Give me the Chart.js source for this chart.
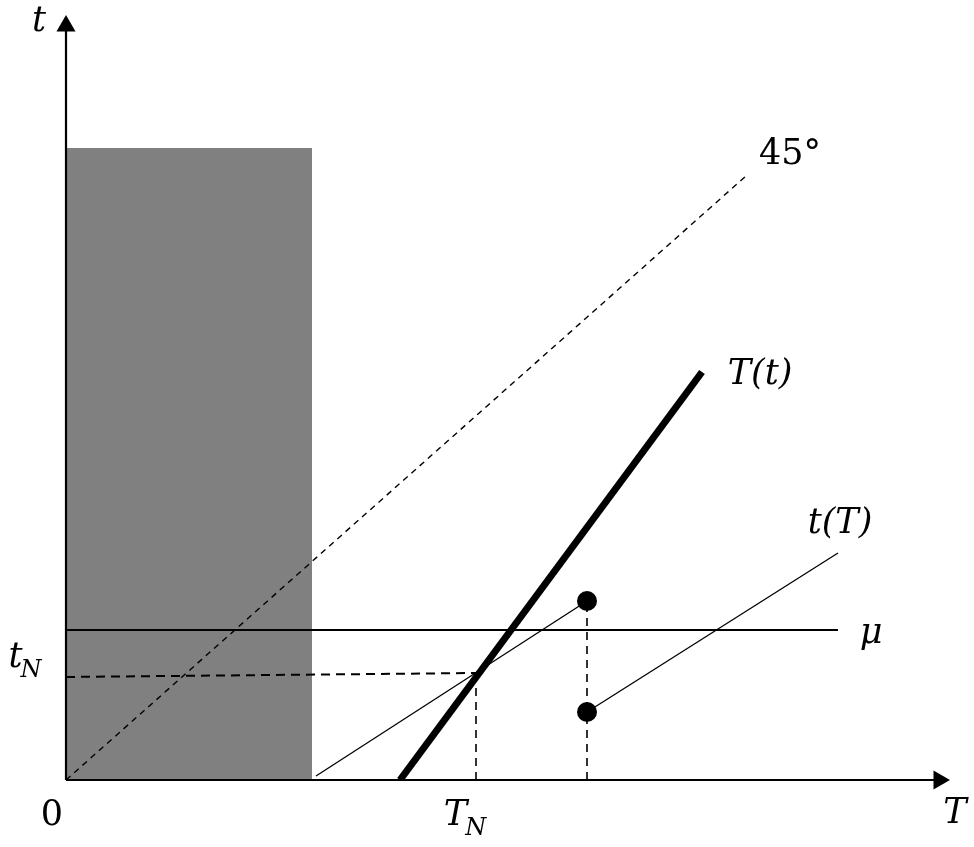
<!DOCTYPE html>
<html>
<head>
<meta charset="utf-8">
<script src="https://cdn.jsdelivr.net/npm/chart.js@4/dist/chart.umd.min.js"></script>
<style>
  html, body { margin: 0; background: #fff; }
</style>
</head>
<body>
<canvas id="chart" width="974" height="847"></canvas>
<script>
// data units are picked so the drawing reads like the original sketch
const xRange = [0, 908];
const yRange = [0, 780];

const shadeTop = [{x: 0, y: 632}, {x: 246, y: 632}];
const line45 = [{x: 0, y: 0}, {x: 680, y: 604}];
const curveTt = [{x: 334, y: 0}, {x: 636, y: 408}];
const curvetT_low = [{x: 250, y: 4}, {x: 521, y: 179}];
const curvetT_high = [{x: 521, y: 68}, {x: 772, y: 227}];
const muLevel = [{x: 0, y: 150}, {x: 772, y: 150}];
const tNGuide = [{x: 0, y: 103}, {x: 410, y: 107}];
const TNGuide = [{x: 410, y: 0}, {x: 410, y: 107}];
const jumpGuide = [{x: 521, y: 0}, {x: 521, y: 179}];
const jumpPoints = [{x: 521, y: 179}, {x: 521, y: 68}];
const xAxisLine = [{x: 0, y: 0}, {x: 873, y: 0}];
const yAxisLine = [{x: 0, y: 0}, {x: 0, y: 754}];

const labelTexts = ['t', '0', 'T', 'T', 't', 'μ', '45°', 'T(t)', 't(T)'];
const labelSubs  = ['', '', 'N', '', 'N', '', '', '', ''];
const labelX     = [-27, -14, 400, 889, -40, 805, 724, 694, 774];
const labelY     = [758, -36, -36, -34, 122, 146, 625, 405, 256];
const labelItalic = [true, false, true, true, true, true, false, true, true];

const textLabels = {
    id: 'textLabels',
    afterDraw(chart) {
        const ctx = chart.ctx;
        const sx = chart.scales.x, sy = chart.scales.y;
        ctx.save();
        ctx.fillStyle = '#000';
        ctx.textBaseline = 'middle';
        labelTexts.forEach((txt, i) => {
            const px = sx.getPixelForValue(labelX[i]);
            const py = sy.getPixelForValue(labelY[i]);
            const style = labelItalic[i] ? 'italic ' : '';
            ctx.font = style + '35px "DejaVu Serif"';
            const w = ctx.measureText(txt).width;
            let subW = 0;
            if (labelSubs[i]) {
                ctx.font = style + '24px "DejaVu Serif"';
                subW = ctx.measureText(labelSubs[i]).width;
            }
            const left = px - (w + subW) / 2;
            ctx.textAlign = 'left';
            ctx.font = style + '35px "DejaVu Serif"';
            ctx.fillText(txt, left, py);
            if (labelSubs[i]) {
                ctx.font = style + '24px "DejaVu Serif"';
                ctx.fillText(labelSubs[i], left + w - 2, py + 13);
            }
        });
        ctx.restore();
    }
};

function seg(data, width, dash, extra) {
    return Object.assign({
        data: data,
        borderColor: '#000',
        borderWidth: width,
        borderDash: dash || [],
        pointRadius: 0,
        fill: false,
        tension: 0
    }, extra || {});
}

const arrowHead = {
    clip: false, pointStyle: 'triangle',
    pointBackgroundColor: '#000', pointBorderColor: '#000', pointBorderWidth: 0
};

new Chart(document.getElementById('chart'), {
    type: 'line',
    data: {
        datasets: [
            seg(jumpPoints, 0, [], {
                showLine: false, pointRadius: 10,
                pointBackgroundColor: '#000', pointBorderColor: '#000', pointBorderWidth: 0
            }),
            seg(xAxisLine, 2.2, [], Object.assign({pointRadius: [0, 11], pointRotation: 90}, arrowHead)),
            seg(yAxisLine, 2.2, [], Object.assign({pointRadius: [0, 11], pointRotation: 0}, arrowHead)),
            seg(curveTt, 7),
            seg(curvetT_low, 1.3),
            seg(curvetT_high, 1.3),
            seg(muLevel, 2),
            seg(tNGuide, 2, [9, 6]),
            seg(TNGuide, 1.6, [8, 6]),
            seg(jumpGuide, 1.6, [8, 6]),
            seg(line45, 1.4, [6, 5]),
            seg(shadeTop, 0, [], {fill: 'origin', backgroundColor: '#808080'})
        ]
    },
    options: {
        responsive: false,
        animation: false,
        layout: { autoPadding: false, padding: { left: 66, right: 0, top: 0, bottom: 67 } },
        scales: {
            x: { type: 'linear', min: xRange[0], max: xRange[1], display: false },
            y: { type: 'linear', min: yRange[0], max: yRange[1], display: false }
        },
        plugins: { legend: { display: false }, tooltip: { enabled: false } }
    },
    plugins: [textLabels]
});
</script>
</body>
</html>
